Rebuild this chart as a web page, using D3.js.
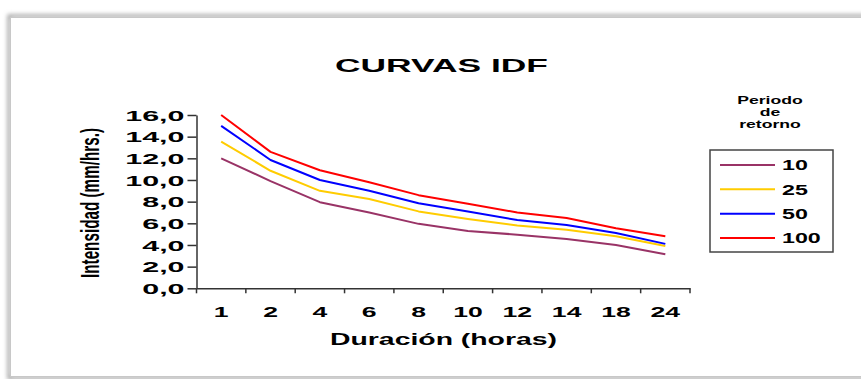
<!DOCTYPE html>
<html>
<head>
<meta charset="utf-8">
<script src="https://cdn.jsdelivr.net/npm/d3@7"></script>
<style>
  html, body { margin: 0; padding: 0; background: #fff; }
  svg { display: block; }
  text { font-family: "Liberation Sans", Arial, sans-serif; fill: #000; }
</style>
</head>
<body>
<svg id="chart" width="861" height="379"></svg>
<script>
// ---- data ----
const durations = ["1", "2", "4", "6", "8", "10", "12", "14", "18", "24"];
const periods = ["10", "25", "50", "100"];
const T10  = [12.0, 9.9, 7.95, 7.0, 5.95, 5.3, 4.95, 4.55, 4.0, 3.15];
const T25  = [13.55, 10.85, 9.0, 8.25, 7.1, 6.4, 5.8, 5.4, 4.8, 3.9];
const T50  = [15.0, 11.85, 10.0, 9.0, 7.85, 7.1, 6.3, 5.85, 5.1, 4.1];
const T100 = [16.0, 12.6, 10.9, 9.8, 8.6, 7.8, 7.0, 6.5, 5.55, 4.8];
const yTicks = [0, 2, 4, 6, 8, 10, 12, 14, 16];
const titleText = "CURVAS IDF";
const xTitle = "Duración (horas)";
const yTitle = "Intensidad (mm/hrs.)";
const legendTitle = ["Periodo", "de", "retorno"];

const seriesValues = [T10, T25, T50, T100];
const colors = ["#993366", "#FFCC00", "#0000FF", "#FF0000"];

const svg = d3.select("#chart");

// frame with shadow
const defs = svg.append("defs");
const f = defs.append("filter").attr("id", "sh").attr("x", "-5%").attr("y", "-5%").attr("width", "110%").attr("height", "110%");
f.append("feGaussianBlur").attr("stdDeviation", 2);
svg.append("rect").attr("x", 9).attr("y", 16).attr("width", 900).attr("height", 362)
  .attr("fill", "none").attr("stroke", "#999").attr("stroke-width", 3).attr("filter", "url(#sh)");
svg.append("rect").attr("x", 10.5).attr("y", 17.5).attr("width", 900).attr("height", 359)
  .attr("fill", "#fff").attr("stroke", "#c8c8c8").attr("stroke-width", 1);

// scales
const x = d3.scaleBand().domain(durations).range([196.5, 690]);
const y = d3.scaleLinear().domain([0, 16]).range([288.3, 115]);

// y axis
const yAxis = svg.append("g").attr("transform", "translate(196.5,0)")
  .call(d3.axisLeft(y).tickValues(yTicks).tickSize(9).tickSizeOuter(0)
    .tickFormat(d => d3.format(".1f")(d).replace(".", ",")));
yAxis.select(".domain").attr("stroke", "#333").attr("stroke-width", 1.5);
yAxis.selectAll(".tick line").attr("stroke", "#333").attr("stroke-width", 1.5);
yAxis.selectAll(".tick text")
  .attr("x", 0).attr("dy", "0.36em")
  .attr("transform", "translate(-12,0) scale(2.1,1)")
  .attr("text-anchor", "end")
  .style("font-size", "14.5px").style("font-weight", "bold").attr("fill", "#000");

// x axis
const xAxis = svg.append("g").attr("transform", "translate(0,288.3)")
  .call(d3.axisBottom(x).tickSize(0).tickSizeOuter(0));
xAxis.select(".domain").attr("stroke", "#333").attr("stroke-width", 1.5);
xAxis.selectAll(".tick text")
  .attr("y", 0).attr("dy", 0)
  .attr("transform", "translate(0,28.5) scale(1.9,1)")
  .attr("text-anchor", "middle")
  .style("font-size", "14px").style("font-weight", "bold").attr("fill", "#000");
// boundary ticks
const bounds = durations.map(d => x(d)).concat([x(durations[durations.length - 1]) + x.bandwidth()]);
xAxis.selectAll(".btick").data(bounds).enter().append("line")
  .attr("x1", d => d).attr("x2", d => d).attr("y1", 0).attr("y2", 5)
  .attr("stroke", "#333").attr("stroke-width", 1.5);

// lines
const line = d3.line()
  .x((d, i) => x(durations[i]) + x.bandwidth() / 2)
  .y(d => y(d));
seriesValues.forEach((vals, k) => {
  svg.append("path").datum(vals)
    .attr("d", line)
    .attr("fill", "none")
    .attr("stroke", colors[k])
    .attr("stroke-width", 2)
    .attr("stroke-linejoin", "round");
});

// title
svg.append("text").attr("x", 335).attr("y", 72)
  .attr("textLength", 213).attr("lengthAdjust", "spacingAndGlyphs")
  .style("font-size", "19px").style("font-weight", "bold").text(titleText);

// x title
svg.append("text").attr("x", 330).attr("y", 345)
  .attr("textLength", 227).attr("lengthAdjust", "spacingAndGlyphs")
  .style("font-size", "16px").style("font-weight", "bold").text(xTitle);

// y title
svg.append("text")
  .attr("transform", "translate(99,203) scale(1.75,1) rotate(-90)")
  .attr("text-anchor", "middle")
  .attr("textLength", 150).attr("lengthAdjust", "spacingAndGlyphs")
  .style("font-size", "15px").style("font-weight", "bold").text(yTitle);

// legend title
const lt = [104, 116, 128];
legendTitle.forEach((t, i) => {
  svg.append("text")
    .attr("transform", `translate(770,${lt[i]}) scale(1.6,1)`)
    .attr("text-anchor", "middle")
    .style("font-size", "11px").style("font-weight", "bold").text(t);
});

// legend box
svg.append("rect").attr("x", 710).attr("y", 150).attr("width", 123).attr("height", 102)
  .attr("fill", "#fff").attr("stroke", "#444").attr("stroke-width", 1.5);
const ly = d3.scalePoint().domain(periods).range([165, 238]);
periods.forEach((p, k) => {
  svg.append("line").attr("x1", 720).attr("x2", 775).attr("y1", ly(p)).attr("y2", ly(p))
    .attr("stroke", colors[k]).attr("stroke-width", 2);
  svg.append("text")
    .attr("transform", `translate(782,${ly(p)}) scale(1.55,1)`)
    .attr("dy", "0.36em")
    .style("font-size", "15px").style("font-weight", "bold").text(p);
});
</script>
</body>
</html>
